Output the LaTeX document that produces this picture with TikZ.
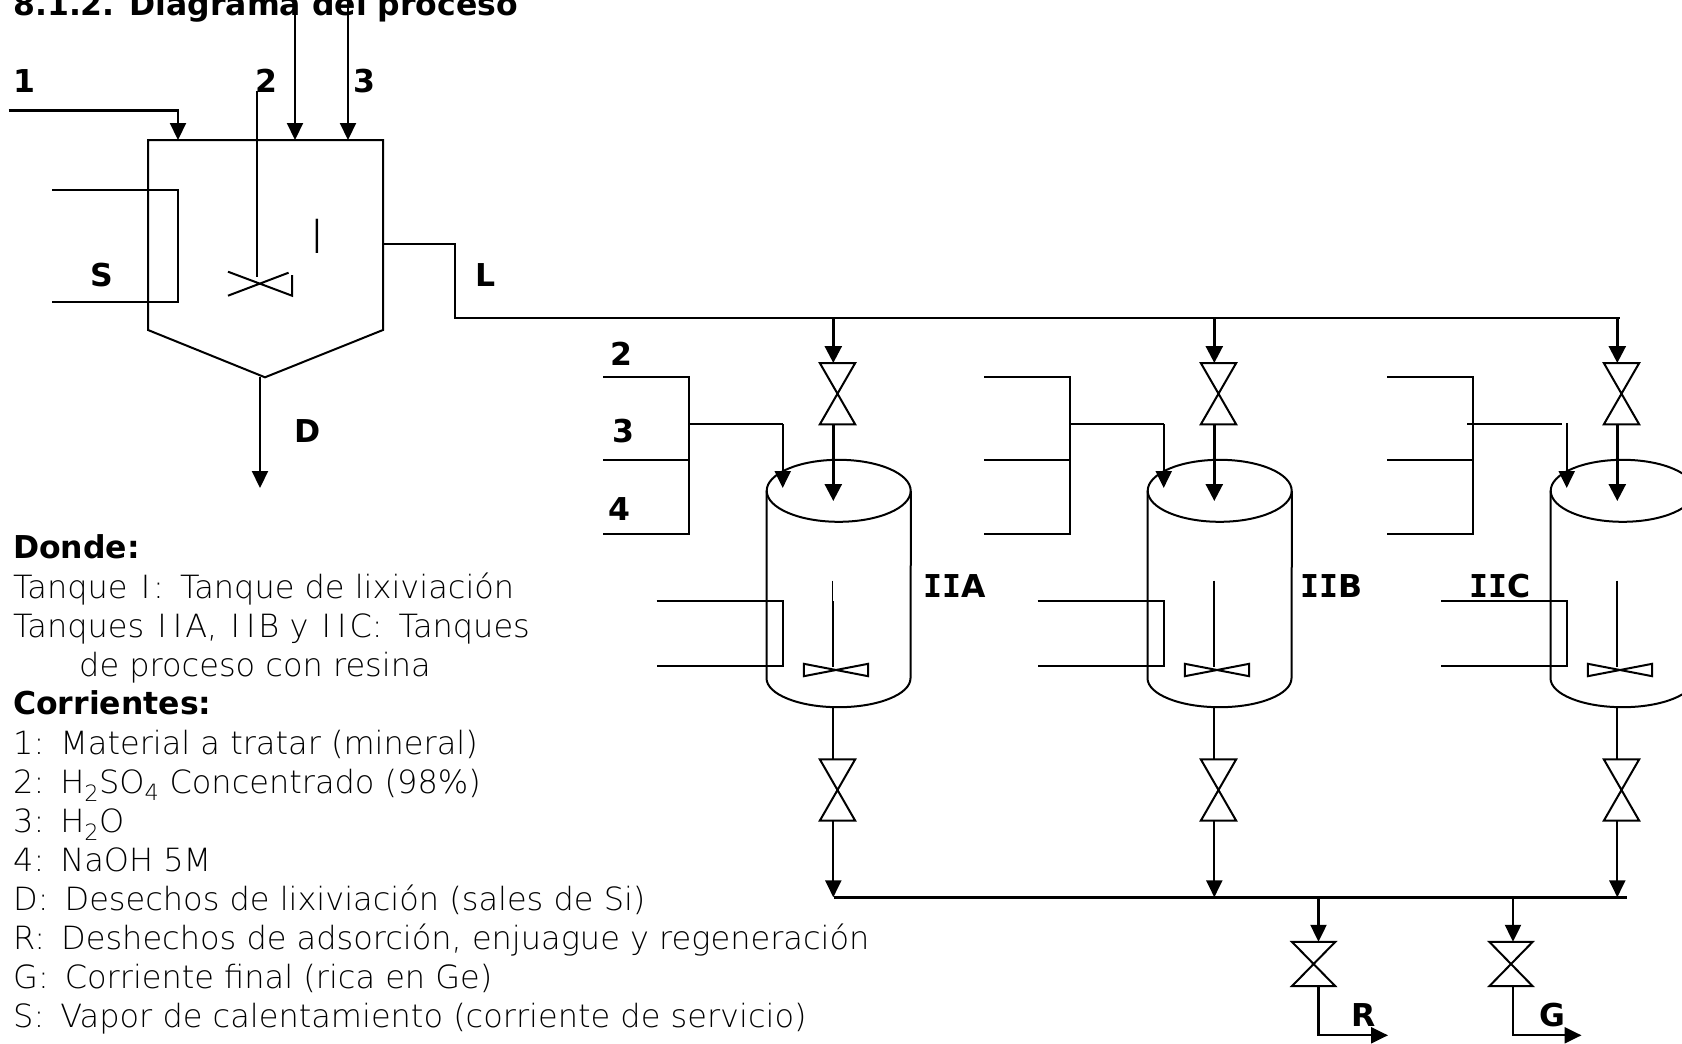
\documentclass[tikz,border=0pt]{standalone}
\usepackage{fontspec}
\setmainfont{DejaVu Sans ExtraLight}
\newfontfamily\boldfont{DejaVu Sans Bold}
\newfontfamily\romanfont{DejaVu Sans Mono Bold}
\usetikzlibrary{arrows.meta, positioning, calc}
\newcommand{\drawvalve}[1]{\draw[pipe] (#1.north west) -- (#1.north east) -- (#1.south west) -- (#1.south east) -- cycle;}
\newcommand{\drawtank}[1]{%
  \draw[pipe] (#1.north) ellipse [x radius=72pt, y radius=31pt];
  \draw[pipe] (#1.north west) -- (#1.south west) arc [start angle=180, end angle=360, x radius=72pt, y radius=29pt] -- (#1.north east);}
\newcommand{\drawblade}[1]{\draw[pipe] (#1.north west) -- (#1.south east) -- (#1.north east) -- (#1.south west) -- cycle;}
\newcommand{\gap}{\kern16pt}
\newcommand{\wideI}{\kern3pt I\kern3pt}

\begin{document}
\begin{tikzpicture}[
        x=1pt, y=-1pt,
        pipe/.style={line width=2pt},
        arrow/.style={-{Triangle[length=17pt,width=17pt]}, line width=2.6pt},
        thinarrow/.style={-{Triangle[length=17pt,width=16pt]}, line width=2.2pt},
        valve/.style={rectangle, minimum width=35pt, minimum height=61pt, inner sep=0pt},
        endvalve/.style={valve, minimum width=43pt, minimum height=44pt},
        vessel/.style={rectangle, minimum width=144pt, minimum height=187pt, inner sep=0pt},
        blade/.style={rectangle, minimum width=64pt, minimum height=12pt, inner sep=0pt},
        tag/.style={anchor=base west, inner sep=0pt, font=\boldfont\fontsize{31.5}{31.5}\selectfont},
        legend/.style={anchor=base west, inner sep=0pt, font=\fontsize{32}{32}\selectfont}
    ]
        \useasboundingbox (0,0) rectangle (1682,1044);
        \clip (0,0) rectangle (1682,1044);

        % Tank I
        \node[tag] (title) at (13,15) {8.1.2. Diagrama del proceso};
        \coordinate (s1) at (8.6,110.5);
        \coordinate (in1) at (178,140);
        \coordinate (top2) at (295,0);
        \coordinate (in2) at (295,140);
        \coordinate (top3) at (348,0);
        \coordinate (in3) at (348,140);
        \coordinate (tl) at (148,140);
        \coordinate (tr) at (383,140);
        \coordinate (bl) at (148,330);
        \coordinate (br) at (383,330);
        \coordinate (apex) at (265,377.3);
        \draw[pipe] (tl) -- (tr) -- (br) -- (apex) -- (bl) -- cycle;
        \draw[thinarrow] (s1) -| (in1);
        \draw[thinarrow] (top2) -- (in2);
        \draw[thinarrow] (top3) -- (in3);
        \node[tag] (lab1) at (13,92.7) {1};
        \node[tag] (lab2) at (255,92.7) {2};
        \node[tag] (lab3) at (353,92.7) {3};
        \draw[pipe] (257.4,91) -- (257.4,276.7);
        \draw[pipe] (228,271.7) -- (292,295.7) -- (292,275) (288.6,272.7) -- (228,295.7) -- cycle;
        \node[anchor=base, inner sep=0pt, font=\fontsize{47}{47}\selectfont] (tankIname) at (317.5,253.3) {I};
        \draw[pipe] (52,190.3) -- (177.5,190.3) -- (177.5,302.3) -- (52,302.3);
        \node[tag] (labS) at (90,286) {S};
        \node[tag] (labL) at (475,286) {L};
        \coordinate (dstart) at (260,377.3);
        \coordinate (dend) at (260,488);
        \draw[thinarrow] (dstart) -- (dend);
        \node[tag] (labD) at (294,442.7) {D};

        % Header from tank I
        \coordinate (lout) at (383,243.7);
        \coordinate (lbend) at (455,318.3);
        \coordinate (hend) at (1620,318.3);
        \draw[pipe] (lout) -| (lbend) -- (hend);

        % Tank IIA
        \node[vessel] (tankA) at (838.7,584.5) {};
        \drawtank{tankA}
        \node[valve] (vA1) at (837.5,393.7) {};
        \drawvalve{vA1}
        \node[valve] (vA2) at (837.5,790) {};
        \drawvalve{vA2}
        \coordinate (hA) at (833.3,318.3);
        \coordinate (inA) at (833.3,501);
        \draw[arrow] (hA) -- (hA |- vA1.north);
        \draw[arrow] (hA |- vA1.south) -- (inA);
        \draw[pipe] (603.3,377.3) -- (689.3,377.3) -- (689.3,534.3) -- (603.3,534.3) (603.3,460.3) -- (689.3,460.3);
        \draw[pipe] (689.3,424) -- (782.7,424);
        \draw[thinarrow] (782.7,424) -- (782.7,488);
        \draw[pipe] (656.7,600.7) -- (782.7,600.7) -- (782.7,666.3) -- (656.7,666.3);
        \draw[line width=0.5pt] (832.3,580.7) -- (832.3,601);
        \draw[pipe] (833.3,601) -- (833.3,667);
        \node[blade] (bA) at (836,670) {};
        \drawblade{bA}
        \draw[pipe] (hA |- tankA.south) ++(0,29) -- (hA |- vA2.north);
        \node[tag] (labIIA) at (923,597.7) {{\romanfont II}A};
        \node[tag] (lab2A) at (610,365) {2};
        \node[tag] (lab3A) at (612,442.7) {3};
        \node[tag] (lab4A) at (608,520) {4};

        % Tank IIB
        \node[vessel] (tankB) at (1219.7,584.5) {};
        \drawtank{tankB}
        \node[valve] (vB1) at (1218.5,393.7) {};
        \drawvalve{vB1}
        \node[valve] (vB2) at (1218.5,790) {};
        \drawvalve{vB2}
        \coordinate (hB) at (1214.3,318.3);
        \coordinate (inB) at (1214.3,501);
        \draw[arrow] (hB) -- (hB |- vB1.north);
        \draw[arrow] (hB |- vB1.south) -- (inB);
        \draw[pipe] (984.3,377.3) -- (1070.3,377.3) -- (1070.3,534.3) -- (984.3,534.3) (984.3,460.3) -- (1070.3,460.3);
        \draw[pipe] (1070.3,424) -- (1163.7,424);
        \draw[thinarrow] (1163.7,424) -- (1163.7,488);
        \draw[pipe] (1037.7,600.7) -- (1163.7,600.7) -- (1163.7,666.3) -- (1037.7,666.3);
        \draw[pipe] (1214.3,580.7) -- (1214.3,667);
        \node[blade] (bB) at (1217,670) {};
        \drawblade{bB}
        \draw[pipe] (hB |- tankB.south) ++(0,29) -- (hB |- vB2.north);
        \node[tag] (labIIB) at (1300,597.7) {{\romanfont II}B};

        % Tank IIC
        \node[vessel] (tankC) at (1622.7,584.5) {};
        \drawtank{tankC}
        \node[valve] (vC1) at (1621.5,393.7) {};
        \drawvalve{vC1}
        \node[valve] (vC2) at (1621.5,790) {};
        \drawvalve{vC2}
        \coordinate (hC) at (1617.3,318.3);
        \coordinate (inC) at (1617.3,501);
        \draw[arrow] (hC) -- (hC |- vC1.north);
        \draw[arrow] (hC |- vC1.south) -- (inC);
        \draw[pipe] (1387.3,377.3) -- (1473.3,377.3) -- (1473.3,534.3) -- (1387.3,534.3) (1387.3,460.3) -- (1473.3,460.3);
        \draw[pipe] (1467.3,424) -- (1561.7,424);
        \draw[thinarrow] (1566.7,423.3) -- (1566.7,488);
        \draw[pipe] (1441,600.7) -- (1566.7,600.7) -- (1566.7,666.3) -- (1441,666.3);
        \draw[pipe] (1617.3,580.7) -- (1617.3,667);
        \node[blade] (bC) at (1620,670) {};
        \drawblade{bC}
        \draw[pipe] (hC |- tankC.south) ++(0,29) -- (hC |- vC2.north);
        \node[tag] (labIIC) at (1469,597.7) {{\romanfont II}C};

        % Bottom collector
        \coordinate (busL) at (833.5,897.3);
        \coordinate (busR) at (1627,897.3);
        \draw[line width=2.6pt] (busL) -- (busR);
        \draw[thinarrow] (hA |- vA2.south) -- (hA |- busL);
        \draw[thinarrow] (hB |- vB2.south) -- (hB |- busL);
        \draw[thinarrow] (hC |- vC2.south) -- (hC |- busL);

        \node[endvalve] (vR) at (1313.6,964) {};
        \drawvalve{vR}
        \node[endvalve] (vG) at (1511,964) {};
        \drawvalve{vG}
        \coordinate (outR) at (1318.5,897.3);
        \coordinate (outG) at (1513,897.3);
        \coordinate (endR) at (1388,1035.3);
        \coordinate (endG) at (1581.5,1035.3);
        \draw[thinarrow] (outR) -- (outR |- vR.north);
        \draw[thinarrow] (outG) -- (outG |- vG.north);
        \draw[thinarrow] (outR |- vR.south) |- (endR);
        \draw[thinarrow] (outG |- vG.south) |- (endG);
        \node[tag] (labR) at (1351,1026) {R};
        \node[tag] (labG) at (1539,1026) {G};

        % Legend
        \node[tag] (donde) at (13,558) {Donde:};
        \node[legend] (t1) at (13,598) {Tanque\ \wideI:\gap Tanque de lixiviación};
        \node[legend] (t2) at (13,637) {Tanques\ \wideI\wideI A, \wideI\wideI B y \wideI\wideI C:\gap Tanques};
        \node[legend] (t3) at (79,676) {de proceso con resina};
        \node[tag] (corr) at (13,714) {Corrientes:};
        \node[legend] (c1) at (13,754) {1:\gap Material a tratar (mineral)};
        \node[legend] (c2) at (13,793) {2:\gap H\textsubscript{2}SO\textsubscript{4} Concentrado (98\%)};
        \node[legend] (c3) at (13,832) {3:\gap H\textsubscript{2}O};
        \node[legend] (c4) at (13,871) {4:\gap NaOH 5M};
        \node[legend] (cD) at (13,910) {D:\gap Desechos de lixiviación (sales de Si)};
        \node[legend] (cR) at (13,949) {R:\gap Deshechos de adsorción, enjuague y regeneración};
        \node[legend] (cG) at (13,988) {G:\gap Corriente final (rica en Ge)};
        \node[legend] (cS) at (13,1027) {S:\gap Vapor de calentamiento (corriente de servicio)};

    \end{tikzpicture}
\end{document}
